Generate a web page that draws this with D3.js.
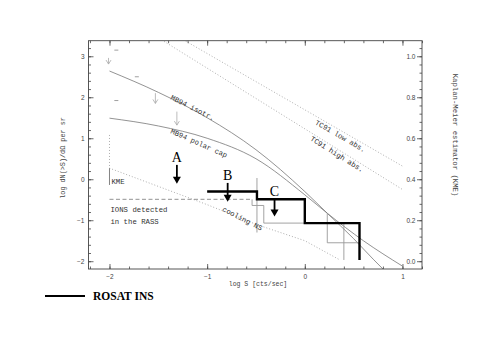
<!DOCTYPE html>
<html>
<head>
<meta charset="utf-8">
<script src="https://cdn.jsdelivr.net/npm/d3@7"></script>
<style>
  body { margin: 0; background: #fff; }
</style>
</head>
<body>
<svg id="chart" width="491" height="338"></svg>
<script>
// curves as [log S, log N]
const mb94Isotr = [[-2, 2.64], [-1.5, 2.12], [-1.0, 1.5], [-0.5, 0.72], [0, -0.3], [0.23, -0.83], [0.5, -1.45], [0.7, -1.95], [0.8, -2.19]];
const mb94Polar = [[-2, 1.49], [-1.5, 1.3], [-1.0, 1.0], [-0.5, 0.5], [0, -0.38], [0.23, -0.83], [0.6, -1.5], [1.0, -2.12]];
const tc91Low = [[-1.3, 3.48], [1.0, 0.32]];
const tc91High = [[-1.52, 3.48], [1.0, -0.25]];
const coolingNS = [[-2, 1.08], [-2, 0.27], [-1, -0.62], [-0.5, -1.1], [0, -1.5], [0.36, -1.97]];
const kmeBar = [[-2, 0.27], [-2, -0.14]];
const ionsRass = [[-2, -0.49], [-0.54, -0.49]];
const rosatIns = [[-1.0, -0.3], [-0.49, -0.3], [-0.49, -0.49], [0, -0.49], [0, -1.07], [0.56, -1.07], [0.56, -1.97]];
const greySteps = [
  [[-0.49, 0.03], [-0.49, -1.3]],
  [[-0.54, -0.49], [-0.54, -0.64], [-0.42, -0.64], [-0.42, -1.07], [0, -1.07]],
  [[0.23, -0.83], [0.23, -1.55], [0.56, -1.55]],
  [[0.40, -1.07], [0.40, -1.97]]
];
// upper limits: [label, log S, from log N, to log N]
const limitArrows = [["A", -1.31, 0.35, -0.11], ["B", -0.79, -0.09, -0.55], ["C", -0.31, -0.46, -0.91]];
const greyLimits = [[-1.53, 2.10, 1.85], [-1.31, 1.65, 1.32], [-2.01, 2.96, 2.81]];
const greyDashes = [[-1.93, 3.15], [-1.93, 1.92], [-1.72, 2.5]];

const xTicks = [-2, -1, 0, 1];
const yTicks = [-2, -1, 0, 1, 2, 3];
const kmeTicks = [0, 0.2, 0.4, 0.6, 0.8, 1.0];

const curveLabels = [
  { text: "MB94 isotr.", s: -1.38, n: 1.96, angle: 27 },
  { text: "MB94 polar cap", s: -1.38, n: 1.13, angle: 24 },
  { text: "TC91 low abs.", s: 0.10, n: 1.35, angle: 30 },
  { text: "TC91 high abs.", s: 0.05, n: 0.96, angle: 32 },
  { text: "cooling NS", s: -0.85, n: -0.77, angle: 27 }
];

const svg = d3.select("#chart");
const x = d3.scaleLinear().domain([-2.215, 1.2]).range([88.5, 422]);
const y = d3.scaleLinear().domain([-2.19, 3.38]).range([269, 40.7]);
// KME axis on the right: 0 <-> log N = -2, 1 <-> log N = 3
const kme = d3.scaleLinear().domain(y.domain().map(v => (v + 2) / 5)).range(y.range());

const mono = "'Liberation Mono', 'DejaVu Sans Mono', monospace";
const sans = "'Liberation Sans', Arial, sans-serif";
const serif = "'Liberation Serif', 'Times New Roman', serif";

svg.append("defs").append("clipPath").attr("id", "plot")
  .append("rect")
  .attr("x", x.range()[0]).attr("y", y.range()[1])
  .attr("width", x.range()[1] - x.range()[0])
  .attr("height", y.range()[0] - y.range()[1]);

const line = d3.line().x(d => x(d[0])).y(d => y(d[1]));
const smooth = d3.line().x(d => x(d[0])).y(d => y(d[1])).curve(d3.curveMonotoneX);

const plot = svg.append("g").attr("clip-path", "url(#plot)");

// theory curves
plot.append("path").attr("d", smooth(mb94Isotr))
  .attr("fill", "none").attr("stroke", "#777").attr("stroke-width", 0.8);
plot.append("path").attr("d", smooth(mb94Polar))
  .attr("fill", "none").attr("stroke", "#777").attr("stroke-width", 0.8);
[tc91Low, tc91High].forEach(d => {
  plot.append("path").attr("d", line(d))
    .attr("fill", "none").attr("stroke", "#999").attr("stroke-width", 0.8)
    .attr("stroke-dasharray", "1,2");
});
plot.append("path").attr("d", line(coolingNS))
  .attr("fill", "none").attr("stroke", "#999").attr("stroke-width", 0.8)
  .attr("stroke-dasharray", "1,2");

// grey KME steps
greySteps.forEach(d => {
  plot.append("path").attr("d", line(d))
    .attr("fill", "none").attr("stroke", "#999").attr("stroke-width", 0.9);
});
plot.append("path").attr("d", line(kmeBar))
  .attr("fill", "none").attr("stroke", "#777").attr("stroke-width", 0.9);
plot.append("path").attr("d", line(ionsRass))
  .attr("fill", "none").attr("stroke", "#777").attr("stroke-width", 0.8)
  .attr("stroke-dasharray", "4,2.5");

// grey upper limits in the upper left
greyLimits.forEach(([s, n0, n1]) => {
  const xs = x(s), y0 = y(n0), y1 = y(n1);
  plot.append("path")
    .attr("d", `M${xs},${y0}V${y1}M${xs - 2.5},${y1 - 4}L${xs},${y1}L${xs + 2.5},${y1 - 4}`)
    .attr("fill", "none").attr("stroke", "#aaa").attr("stroke-width", 0.8);
});
greyDashes.forEach(([s, n]) => {
  plot.append("line")
    .attr("x1", x(s) - 2).attr("x2", x(s) + 2)
    .attr("y1", y(n)).attr("y2", y(n))
    .attr("stroke", "#888").attr("stroke-width", 0.8);
});

// ROSAT INS
plot.append("path").attr("d", line(rosatIns))
  .attr("fill", "none").attr("stroke", "#000").attr("stroke-width", 2.4);

// A, B, C limits
limitArrows.forEach(([lab, s, n0, n1]) => {
  const xs = x(s), y0 = y(n0), y1 = y(n1);
  svg.append("line")
    .attr("x1", xs).attr("x2", xs).attr("y1", y0).attr("y2", y1 - 6)
    .attr("stroke", "#000").attr("stroke-width", 1.8);
  svg.append("path")
    .attr("d", `M${xs - 4},${y1 - 7}L${xs + 4},${y1 - 7}L${xs},${y1}Z`)
    .attr("fill", "#000");
  svg.append("text")
    .attr("x", xs).attr("y", y0 - 2.5)
    .attr("text-anchor", "middle")
    .attr("font-family", serif).attr("font-size", 14)
    .text(lab);
});

// labels on curves
curveLabels.forEach(d => {
  svg.append("text")
    .attr("transform", `translate(${x(d.s)},${y(d.n)}) rotate(${d.angle})`)
    .attr("font-family", mono).attr("font-size", 7.3)
    .attr("fill", "#333")
    .text(d.text);
});
svg.append("text")
  .attr("x", x(-2) + 2).attr("y", y(-0.12))
  .attr("font-family", mono).attr("font-size", 7.3).attr("fill", "#333")
  .text("KME");
svg.append("text")
  .attr("x", x(-2) + 1).attr("y", y(-0.8))
  .attr("font-family", mono).attr("font-size", 7.3).attr("fill", "#333")
  .text("IONS detected");
svg.append("text")
  .attr("x", x(-2) + 1).attr("y", y(-1.08))
  .attr("font-family", mono).attr("font-size", 7.3).attr("fill", "#333")
  .text("in the RASS");

// axes with inward ticks
const styleAxis = g => {
  g.select(".domain").remove();
  g.selectAll("line").attr("stroke", "#444").attr("stroke-width", 0.8);
  g.selectAll("text").attr("font-family", sans).attr("font-size", 6.5).attr("fill", "#444");
};
const minorX = d3.range(-2.2, 1.21, 0.2);
const minorY = d3.range(-2.0, 3.21, 0.2);
const minorK = d3.range(0, 1.05, 0.04);

svg.append("g").attr("transform", `translate(0,${y.range()[0]})`)
  .call(d3.axisBottom(x).tickValues(xTicks).tickSize(-5).tickSizeOuter(0).tickPadding(5).tickFormat(d3.format("d")))
  .call(styleAxis);
svg.append("g").attr("transform", `translate(0,${y.range()[0]})`)
  .call(d3.axisBottom(x).tickValues(minorX).tickSize(-2.5).tickSizeOuter(0).tickFormat(""))
  .call(styleAxis);
svg.append("g").attr("transform", `translate(0,${y.range()[1]})`)
  .call(d3.axisTop(x).tickValues(xTicks).tickSize(-5).tickSizeOuter(0).tickFormat(""))
  .call(styleAxis);
svg.append("g").attr("transform", `translate(0,${y.range()[1]})`)
  .call(d3.axisTop(x).tickValues(minorX).tickSize(-2.5).tickSizeOuter(0).tickFormat(""))
  .call(styleAxis);
svg.append("g").attr("transform", `translate(${x.range()[0]},0)`)
  .call(d3.axisLeft(y).tickValues(yTicks).tickSize(-5).tickSizeOuter(0).tickPadding(4).tickFormat(d3.format("d")))
  .call(styleAxis);
svg.append("g").attr("transform", `translate(${x.range()[0]},0)`)
  .call(d3.axisLeft(y).tickValues(minorY).tickSize(-2.5).tickSizeOuter(0).tickFormat(""))
  .call(styleAxis);
svg.append("g").attr("transform", `translate(${x.range()[1]},0)`)
  .call(d3.axisLeft(kme).tickValues(kmeTicks).tickSize(5).tickSizeOuter(0).tickPadding(1.5).tickFormat(d3.format(".1f")))
  .call(styleAxis);
svg.append("g").attr("transform", `translate(${x.range()[1]},0)`)
  .call(d3.axisLeft(kme).tickValues(minorK).tickSize(2.5).tickSizeOuter(0).tickFormat(""))
  .call(styleAxis);

// frame
svg.append("rect")
  .attr("x", x.range()[0]).attr("y", y.range()[1])
  .attr("width", x.range()[1] - x.range()[0])
  .attr("height", y.range()[0] - y.range()[1])
  .attr("fill", "none").attr("stroke", "#444").attr("stroke-width", 0.9);

// axis titles
svg.append("text")
  .attr("x", 258).attr("y", 286)
  .attr("text-anchor", "middle")
  .attr("font-family", mono).attr("font-size", 6.5).attr("fill", "#444")
  .text("log S [cts/sec]");
svg.append("text")
  .attr("transform", "translate(65,158) rotate(-90)")
  .attr("text-anchor", "middle")
  .attr("font-family", mono).attr("font-size", 6.8).attr("fill", "#444")
  .text("log dN(>S)/dΩ per sr");
svg.append("text")
  .attr("transform", "translate(453,135) rotate(90)")
  .attr("text-anchor", "middle")
  .attr("font-family", mono).attr("font-size", 7.3).attr("fill", "#444")
  .text("Kaplan-Meier estimator (KME)");

// legend
svg.append("line")
  .attr("x1", 45).attr("x2", 85).attr("y1", 296).attr("y2", 296)
  .attr("stroke", "#000").attr("stroke-width", 2);
svg.append("text")
  .attr("x", 93).attr("y", 300)
  .attr("font-family", serif).attr("font-size", 11.5).attr("font-weight", "bold")
  .text("ROSAT INS");
</script>
</body>
</html>
